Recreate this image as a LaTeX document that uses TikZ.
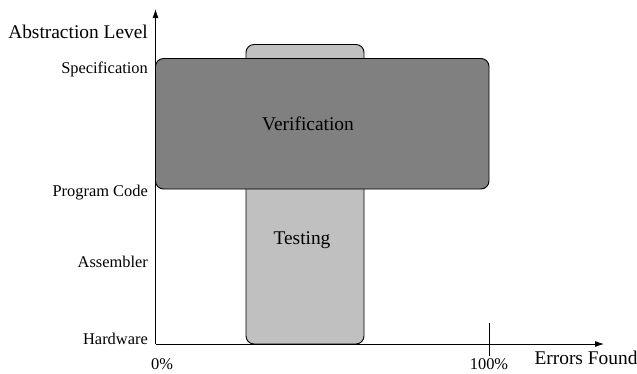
\documentclass[tikz,border=0pt]{standalone}
\usepackage{fontspec}
\setmainfont{Liberation Serif}
\usetikzlibrary{arrows.meta}
\definecolor{darkbox}{HTML}{808080}
\definecolor{lightbox}{HTML}{C0C0C0}
\tikzset{
  big/.style={font=\fontsize{19.4}{22}\selectfont, inner sep=0pt},
  small/.style={font=\fontsize{16.4}{19}\selectfont, inner sep=0pt},
  box/.style={draw=black, line width=0.9pt, rounded corners=8pt},
  axis/.style={line width=0.9pt, -{Latex[length=9pt,width=6pt]}}
}
\begin{document}
\begin{tikzpicture}[x=1pt,y=-1pt]
\useasboundingbox (0,0) rectangle (637,373);
% testing box
\draw[box, fill=lightbox] (246,344) rectangle (364,44.5);
\node[big] (test) at (302,240) {Testing};
% verification box
\draw[box, fill=darkbox] (155.5,58.5) rectangle (489,189);
\node[big] (ver) at (308,124) {Verification};
% axes
\coordinate (o) at (155.5,344);
\coordinate (ytop) at (155.5,9);
\coordinate (xend) at (604,344);
\draw[axis] (o) -- (ytop);
\draw[axis] (o) -- (xend);
\coordinate (t1) at (489,323);
\coordinate (t2) at (489,356);
\draw[line width=0.9pt] (t1) -- (t2);
% labels
\node[big, anchor=east] (al) at (148,32) {Abstraction Level};
\node[small, anchor=east] (spec) at (148,69) {Specification};
\node[small, anchor=east] (pc) at (148,193) {Program Code};
\node[small, anchor=east] (asm) at (148,262) {Assembler};
\node[small, anchor=east] (hw) at (148,339) {Hardware};
\node[small] (p0) at (162,364.5) {0\%};
\node[small] (p100) at (489,364.5) {100\%};
\node[big] (ef) at (586,358) {Errors Found};
\end{tikzpicture}
\end{document}
